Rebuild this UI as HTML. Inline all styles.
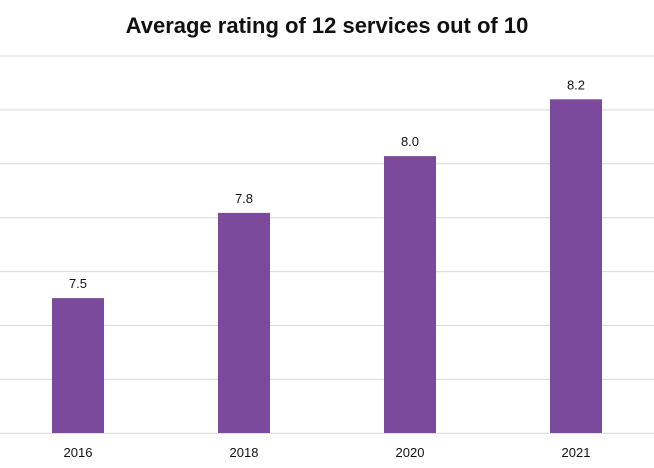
<!DOCTYPE html>
<html><head><meta charset="utf-8"><style>
html,body{margin:0;padding:0;background:#fff;width:654px;height:468px;overflow:hidden;font-family:"Liberation Sans",sans-serif}
</style></head><body>
<svg id="chart" width="654" height="468" xmlns="http://www.w3.org/2000/svg">
<text x="327" y="33" text-anchor="middle" font-size="22" font-weight="bold" fill="#111">Average rating of 12 services out of 10</text>
<g id="grid"></g>
<g id="bars"></g>
</svg>
<script>
const categories = ["2016","2018","2020","2021"];
const values = [7.5, 7.8, 8.0, 8.2];
const valueLabels = ["7.5","7.8","8.0","8.2"];

const NS="http://www.w3.org/2000/svg";
const base=433, vmin=7.025, pxPerUnit=284;
function yScale(v){return base-(v-vmin)*pxPerUnit;}
function xScale(i){return 78+i*166;}
const grid=document.getElementById('grid'), bars=document.getElementById('bars');
for(let k=0;k<8;k++){
  const y=56+k*53.9;
  const l=document.createElementNS(NS,'line');
  
  
  l.setAttribute('x1',0);l.setAttribute('x2',654);l.setAttribute('y1',y);l.setAttribute('y2',y);
  l.setAttribute('stroke','#d9d9d9');l.setAttribute('stroke-width',1);
  grid.appendChild(l);
}
categories.forEach((c,i)=>{
  const x=xScale(i), y=yScale(values[i]);
  const r=document.createElementNS(NS,'rect');
  
  
  r.setAttribute('x',x-26);r.setAttribute('width',52);r.setAttribute('y',y);r.setAttribute('height',base-y);
  r.setAttribute('fill','#7b4a9c');
  bars.appendChild(r);
  const t=document.createElementNS(NS,'text');
  
  
  t.setAttribute('x',x);t.setAttribute('y',y-10);t.setAttribute('text-anchor','middle');
  t.setAttribute('font-size','13');t.setAttribute('fill','#111');
  t.textContent=valueLabels[i];
  bars.appendChild(t);
  const a=document.createElementNS(NS,'text');
  
  
  a.setAttribute('x',x);a.setAttribute('y',457);a.setAttribute('text-anchor','middle');
  a.setAttribute('font-size','13');a.setAttribute('fill','#111');
  a.textContent=c;
  bars.appendChild(a);
});
</script>
</body></html>
